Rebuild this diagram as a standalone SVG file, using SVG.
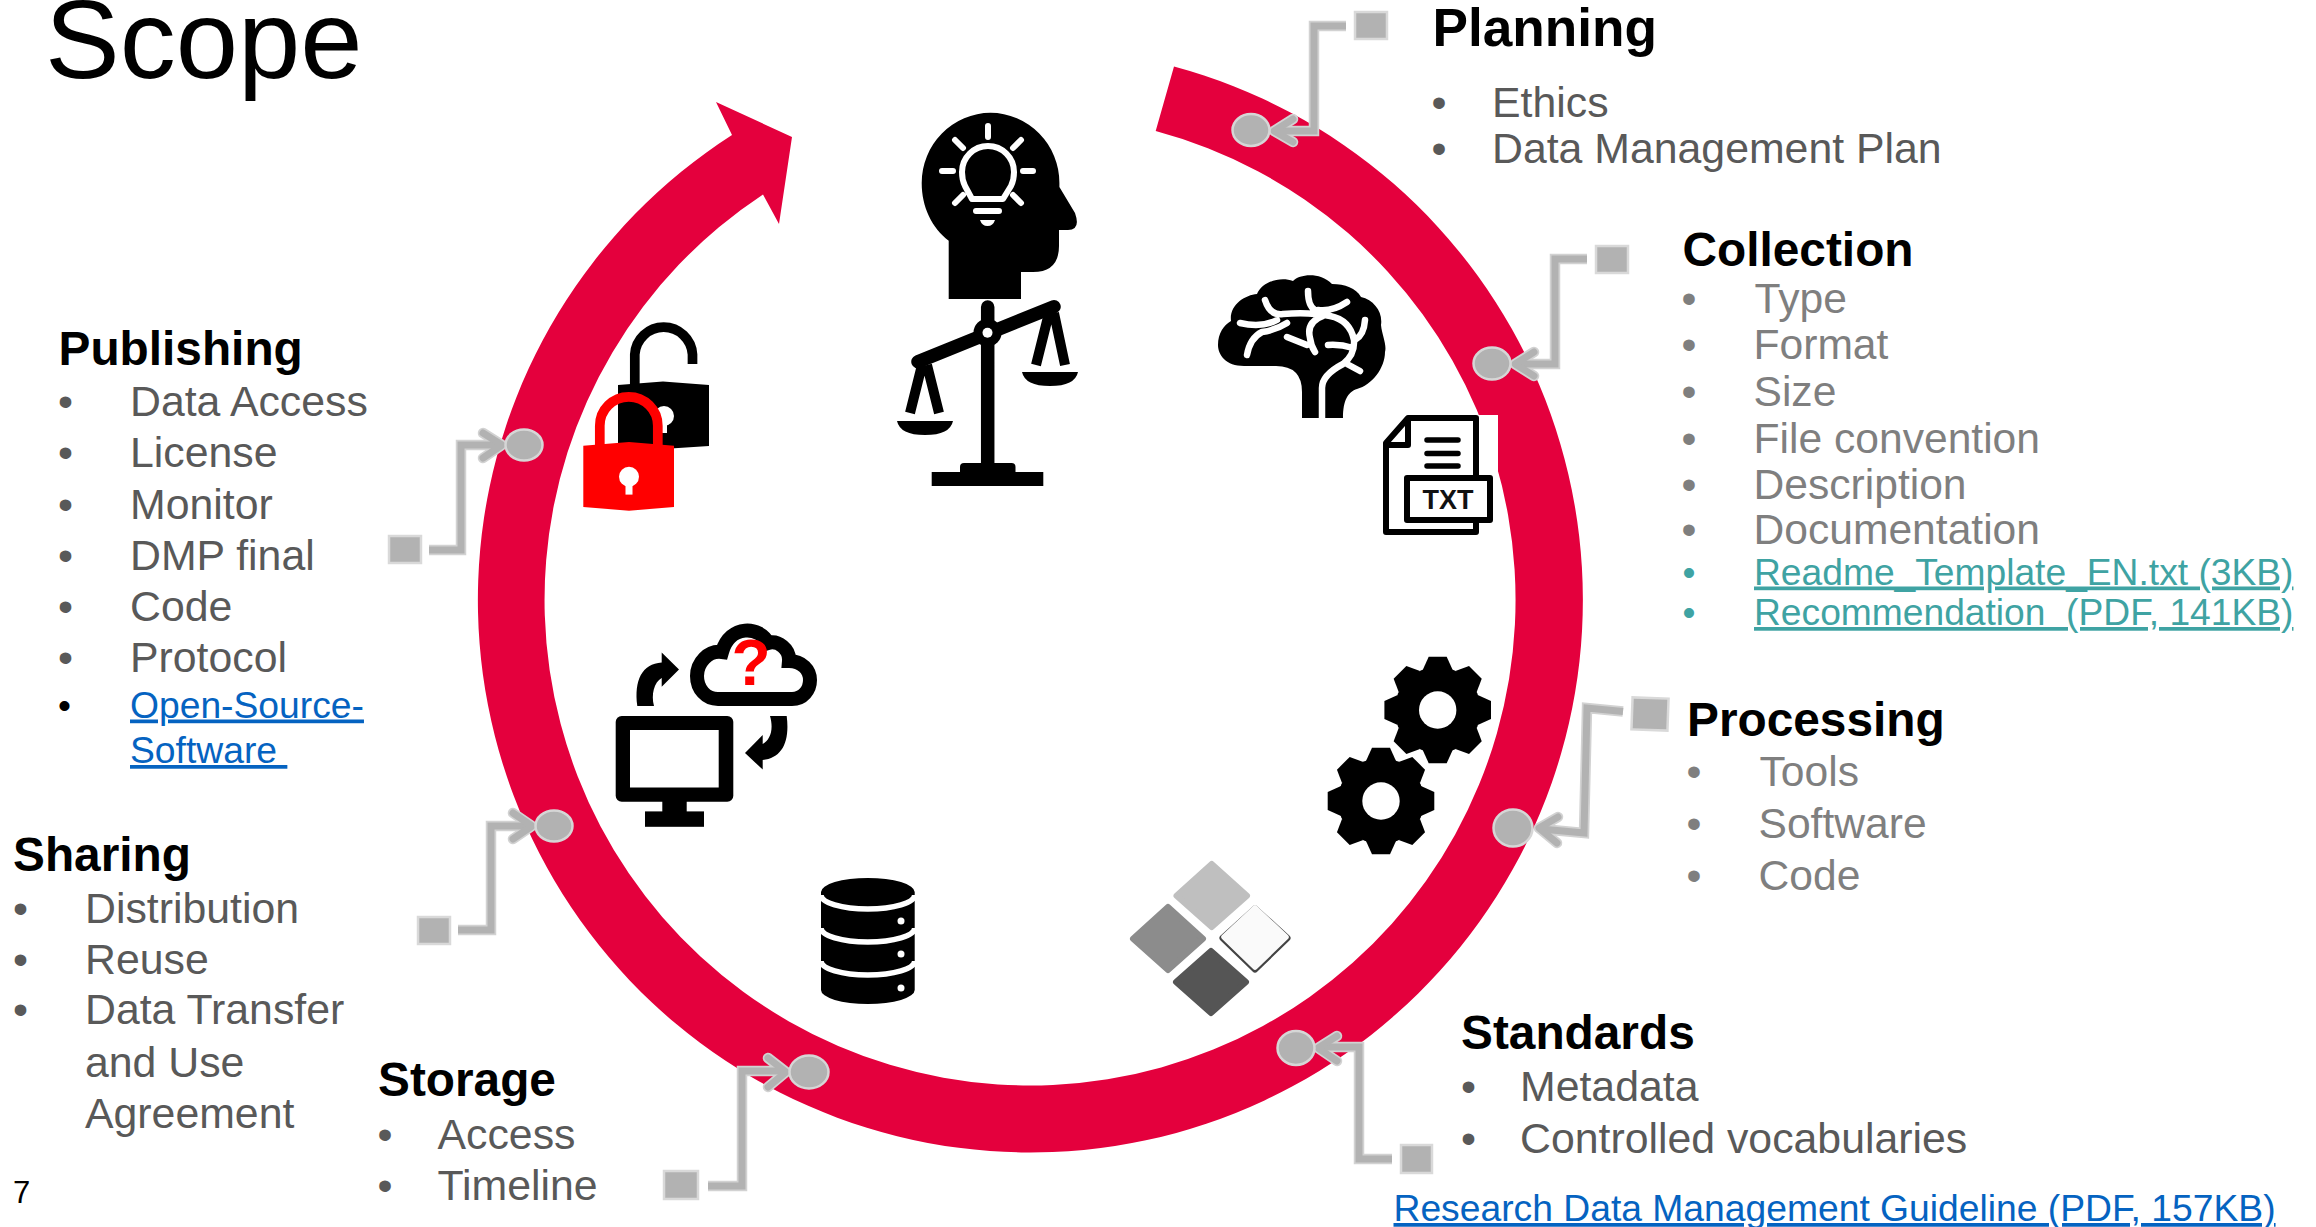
<svg xmlns="http://www.w3.org/2000/svg" xmlns:xlink="http://www.w3.org/1999/xlink" width="2316" height="1227" viewBox="0 0 2316 1227">
<style>
text{font-family:"Liberation Sans",Arial,sans-serif;white-space:pre}
.h{font-weight:700;font-size:47.8px;fill:#000}
.d{font-size:42.8px;fill:#595959}
.g{font-size:42.6px;fill:#7f7f7f}
.bl{text-anchor:middle}
.lk{font-size:37.25px;fill:#0563c1;text-decoration:underline}
.te{font-size:37.2px;fill:#3fa3a3;text-decoration:underline}
.sq{fill:#b2b2b2;stroke:#d9d9d9;stroke-width:2.5}
.dot{fill:#b2b2b2;stroke:#d6d6d6;stroke-width:2.5}
.halo{fill:none;stroke:#d2d2d2;stroke-width:10.5}
.core{fill:none;stroke:#b2b2b2;stroke-width:7}
.ch{stroke-linecap:round;stroke-linejoin:round}
.wl{fill:none;stroke:#fff;stroke-linecap:round;stroke-linejoin:round}
.k{fill:#000}
</style>
<defs>
<g id="gear" class="k">
<circle r="43"/>
<polygon id="tooth" points="-15,-40 -9,-53.3 9,-53.3 15,-40"/>
<use href="#tooth" transform="rotate(45)"/><use href="#tooth" transform="rotate(90)"/><use href="#tooth" transform="rotate(135)"/><use href="#tooth" transform="rotate(180)"/><use href="#tooth" transform="rotate(225)"/><use href="#tooth" transform="rotate(270)"/><use href="#tooth" transform="rotate(315)"/>
<circle r="18.7" fill="#fff"/>
</g>
<g id="c1"><path d="M1346,26 H1314 V131 H1276"/><path class="ch" d="M1293,119 L1274,131 L1293,142"/></g>
<g id="c2"><path d="M1587,259 H1555 V364 H1516"/><path class="ch" d="M1534,352 L1515,364 L1534,376"/></g>
<g id="c3"><path d="M1623,711.5 L1587,708 L1584,833 L1541,829"/><path class="ch" d="M1558,817 L1539,828 L1557,843"/></g>
<g id="c4"><path d="M1392,1159 H1359 V1047 H1320"/><path class="ch" d="M1337,1036 L1318,1048 L1337,1061"/></g>
<g id="c5"><path d="M708,1186 H742 V1071 H783"/><path class="ch" d="M768,1058 L786,1072 L768,1087"/></g>
<g id="c6"><path d="M458,930 H491 V826 H529"/><path class="ch" d="M513,813 L532,826 L513,839"/></g>
<g id="c7"><path d="M429,550 H461 V445 H499"/><path class="ch" d="M483,433 L502,445 L483,458"/></g>
</defs>

<g id="title"><text x="45" y="78" font-size="112" fill="#000">Scope</text></g>
<g id="page-number"><text x="13" y="1203" font-size="31" fill="#000">7</text></g>

<g id="cycle-ring">
<path fill="#e4003d" d="M1174,66.5 A552.5,552.5 0 1 1 732,135 L716,102 L792,137 L779,224 L763,194.5 A485.5,485.5 0 1 0 1155.7,131 Z"/>
</g>

<g id="icon-head-scales">
<path class="k" d="M948.7,299 V240.7 C932,228 921.7,207 921.7,183 A68.7,70 0 0 1 1059.4,183 V187 L1075,213 Q1081,230 1068,230 H1059 V246 Q1059,272 1033,272 H1021 V299 Z"/>
<path class="wl" stroke-width="6" d="M972,199 H1003 L1011,186 Q1014,180 1014,172 A26,26 0 1 0 962,172 Q962,180 965,186 Z M988,126 V137 M942,171 H953 M1023,171 H1033 M955,140 L963,148 M1021,140 L1013,148 M963,195 L955,203 M1013,195 L1021,203 M976,211 H999"/>
<path fill="#fff" d="M980,220 H995 Q993,226 987.5,226 Q982,226 980,220 Z"/>
<path fill="none" stroke="#000" stroke-width="13.5" stroke-linecap="round" d="M987.7,307 V470 M918,361.7 L1054,306.7"/>
<circle class="k" cx="987.5" cy="332.7" r="14"/><circle cx="987.5" cy="332.7" r="5" fill="#fff"/>
<path fill="none" stroke="#000" stroke-width="10" d="M922,365 L910,413 M927,365 L939,413 M1049,313 L1036,365 M1054,313 L1065,365"/>
<path class="k" d="M897,421 H953 Q950,435 925,435 Q900,435 897,421 Z M1022,372 H1078 Q1075,386 1050,386 Q1025,386 1022,372 Z"/>
<rect class="k" x="960" y="463" width="55.5" height="14" rx="4"/>
<rect class="k" x="931.7" y="472" width="111.6" height="14"/>
</g>

<g id="icon-brain">
<path class="k" d="M1302,418 V392 Q1302,366 1276,366 H1244 C1226,366 1218,355 1218,345 C1218,333 1224,325 1231,321 C1229,305 1245,295 1257,294 C1262,282 1280,276 1293,281 C1300,274 1320,272 1332,284 C1345,284 1356,288 1361,297 C1374,300 1383,312 1381,325 C1382,335 1387,345 1385,352 C1385,368 1372,385 1357,389 C1348,392 1343,400 1343,418 Z"/>
<path class="wl" stroke-width="6.5" d="M1322,421 V388 Q1322,375 1343,364 Q1355,355 1354,340 Q1350,320 1330,316 Q1310,312 1283,314 Q1270,316 1265,300 M1277,320 Q1262,328 1240,323 M1287,323 Q1276,330 1262,332 Q1250,338 1247,355 M1308,291 Q1308,306 1315,310 M1318,310 Q1332,312 1347,302 M1323,316 Q1306,322 1310,338 Q1311,346 1315,352 M1287,337 L1307,345 M1328,345 Q1340,344 1353,348 M1355,340 Q1364,335 1365,320 M1347,364 L1360,371"/>
</g>

<g id="icon-txt-file">
<rect x="1380" y="415" width="118" height="120" fill="#fff"/>
<path fill="#fff" stroke="#000" stroke-width="6" stroke-linejoin="round" d="M1408,418 H1476 V532 H1386 V443 Z"/>
<path fill="none" stroke="#000" stroke-width="6" stroke-linejoin="round" d="M1408,418 V445 H1386"/>
<path fill="none" stroke="#000" stroke-width="5.5" stroke-linecap="round" d="M1427,440 H1458 M1427,453.5 H1458 M1427,466 H1458"/>
<rect x="1407" y="478" width="83" height="42" fill="#fff" stroke="#000" stroke-width="6" stroke-linejoin="round"/>
<text x="1448" y="509" font-size="27" font-weight="700" fill="#111" text-anchor="middle">TXT</text>
</g>

<g id="icon-gears">
<use href="#gear" x="1437.7" y="710"/>
<use href="#gear" x="1381" y="801"/>
</g>

<g id="icon-tiles" stroke-linejoin="round">
<polygon points="1211.7,864 1247,895.7 1211.7,927 1176.5,895.7" fill="#bfbfbf" stroke="#bfbfbf" stroke-width="6"/>
<polygon points="1168,907 1203,938.7 1168,970 1133,938.7" fill="#8c8c8c" stroke="#8c8c8c" stroke-width="6"/>
<polygon points="1255,909 1287,938 1255,969 1223,938" fill="#444" stroke="#444" stroke-width="7"/>
<polygon points="1255,908 1286,937 1255,967 1224,937" fill="#fafafa" stroke="#fafafa" stroke-width="5.5"/>
<polygon points="1211,951 1246,982 1211,1013 1176,982" fill="#555" stroke="#555" stroke-width="6"/>
</g>

<g id="icon-database">
<path class="k" d="M821,892 A46.7,14 0 0 1 914.7,892 V990 A46.7,14 0 0 1 821,990 Z"/>
<path fill="none" stroke="#fff" stroke-width="5.5" d="M821,895 A46.7,14 0 0 0 914.7,895 M821,928 A46.7,14 0 0 0 914.7,928 M821,961 A46.7,14 0 0 0 914.7,961"/>
<circle cx="901" cy="921" r="3.5" fill="#fff"/><circle cx="901" cy="954" r="3.5" fill="#fff"/><circle cx="901" cy="988" r="3.5" fill="#fff"/>
</g>

<g id="icon-locks">
<path fill="none" stroke="#000" stroke-width="9.7" d="M634.8,386 V354.5 A28.9,29 0 0 1 692.5,354.5 V364"/>
<polygon class="k" points="618,385 663,381.5 709,385 709,446 663,449 618,446"/>
<circle cx="664" cy="416" r="10" fill="#fff"/><rect x="661" y="420" width="6" height="13" fill="#fff"/>
<path fill="none" stroke="#f00" stroke-width="9.7" d="M599.8,446 V425.8 A29,29 0 0 1 657.8,425.8 V446"/>
<polygon fill="#f00" points="583.3,445.7 629,442 674,445.7 674,507 629,510.7 583.3,507"/>
<circle cx="629" cy="476.8" r="10" fill="#fff"/><rect x="625.5" y="480" width="7" height="14.6" fill="#fff"/>
</g>

<g id="icon-cloud-computer">
<path fill="#fff" stroke="#000" stroke-width="14" d="M718,699 H792 C803,699 810,690 810,680 C810,670 802,661 789,661 C790,649 778,640 768,643 C760,626 730,624 722,652 C708,650 697,663 697,676 C697,689 706,699 718,699 Z"/>
<text x="751" y="685" font-size="64" font-weight="700" fill="#f00" text-anchor="middle">?</text>
<rect class="k" x="615.7" y="716" width="117.6" height="85.8" rx="6"/>
<rect x="630" y="730" width="88.7" height="57.5" fill="#fff"/>
<rect class="k" x="662.3" y="801" width="24.4" height="11"/>
<rect class="k" x="645" y="811.4" width="59" height="15.4"/>
<path class="k" d="M637.3,706 C634,680 642,664 661.7,662.5 V652.5 L679,669.6 L661.7,686.8 V678 C654,682 651,695 654,706 Z"/>
<path class="k" d="M786.7,716 C790,742 782,758 762.7,760 V769.6 L745,753 L762.7,735 V744 C770,740 774,730 770,716 Z"/>
</g>

<g id="connectors">
<use href="#c1" class="halo"/><use href="#c1" class="core"/>
<use href="#c2" class="halo"/><use href="#c2" class="core"/>
<use href="#c3" class="halo"/><use href="#c3" class="core"/>
<use href="#c4" class="halo"/><use href="#c4" class="core"/>
<use href="#c5" class="halo"/><use href="#c5" class="core"/>
<use href="#c6" class="halo"/><use href="#c6" class="core"/>
<use href="#c7" class="halo"/><use href="#c7" class="core"/>
</g>

<g id="node-planning">
<ellipse class="dot" cx="1251" cy="130" rx="18.5" ry="16"/>
<rect class="sq" x="1355" y="12" width="32" height="27"/>
<text x="1432.5" y="46" font-size="53.2" font-weight="700" fill="#000">Planning</text>
<text class="d bl" x="1439" y="117">•</text><text class="d" x="1492" y="117">Ethics</text>
<text class="d bl" x="1439" y="163">•</text><text class="d" x="1492" y="163">Data Management Plan</text>
</g>

<g id="node-collection">
<ellipse class="dot" cx="1492" cy="363.6" rx="18.5" ry="16"/>
<rect class="sq" x="1596" y="246" width="32" height="27"/>
<text class="h" x="1682.5" y="266">Collection</text>
<text class="g bl" x="1689" y="312.5">•</text><text class="g" x="1754.5" y="312.5">Type</text>
<text class="g bl" x="1689" y="358.5">•</text><text class="g" x="1753.5" y="358.5">Format</text>
<text class="g bl" x="1689" y="405.5">•</text><text class="g" x="1753.5" y="405.5">Size</text>
<text class="g bl" x="1689" y="452.5">•</text><text class="g" x="1753.5" y="452.5">File convention</text>
<text class="g bl" x="1689" y="498.5">•</text><text class="g" x="1753.5" y="498.5">Description</text>
<text class="g bl" x="1689" y="544">•</text><text class="g" x="1753.5" y="544">Documentation</text>
<text class="bl" x="1689" y="584.5" font-size="37" fill="#3fa3a3">•</text><text class="te" x="1754" y="584.5">Readme_Template_EN.txt (3KB)</text>
<text class="bl" x="1689" y="625" font-size="37" fill="#3fa3a3">•</text><text class="te" x="1754" y="625">Recommendation  (PDF, 141KB)</text>
</g>

<g id="node-processing">
<ellipse class="dot" cx="1513" cy="828" rx="19.5" ry="18.5"/>
<rect class="sq" x="1632" y="698" width="36" height="32" transform="rotate(2 1650 714)"/>
<text class="h" x="1687" y="736">Processing</text>
<text class="g bl" x="1694" y="786">•</text><text class="g" x="1759.5" y="786">Tools</text>
<text class="g bl" x="1694" y="838">•</text><text class="g" x="1758.5" y="838">Software</text>
<text class="g bl" x="1694" y="890">•</text><text class="g" x="1758.5" y="890">Code</text>
</g>

<g id="node-standards">
<ellipse class="dot" cx="1296" cy="1048" rx="18.5" ry="17"/>
<rect class="sq" x="1401" y="1145" width="31" height="28"/>
<text class="h" x="1461" y="1049">Standards</text>
<text class="d bl" x="1468.5" y="1101">•</text><text class="d" x="1520" y="1101">Metadata</text>
<text class="d bl" x="1468.5" y="1153">•</text><text class="d" x="1520" y="1153">Controlled vocabularies</text>
<text class="lk" x="1393.5" y="1221">Research Data Management Guideline (PDF, 157KB)</text>
</g>

<g id="node-storage">
<ellipse class="dot" cx="809" cy="1072" rx="19.5" ry="16.5"/>
<rect class="sq" x="664" y="1171" width="34" height="28"/>
<text class="h" x="378" y="1096">Storage</text>
<text class="d bl" x="385" y="1149">•</text><text class="d" x="437.5" y="1149">Access</text>
<text class="d bl" x="385" y="1199.5">•</text><text class="d" x="437.5" y="1199.5">Timeline</text>
</g>

<g id="node-sharing">
<ellipse class="dot" cx="554" cy="826" rx="18.5" ry="15.5"/>
<rect class="sq" x="418" y="917" width="32" height="27"/>
<text class="h" x="13" y="871">Sharing</text>
<text class="d bl" x="20.4" y="923">•</text><text class="d" x="85" y="923">Distribution</text>
<text class="d bl" x="20.4" y="974">•</text><text class="d" x="85" y="974">Reuse</text>
<text class="d bl" x="20.4" y="1024">•</text><text class="d" x="85" y="1024">Data Transfer</text>
<text class="d" x="85" y="1077">and Use</text>
<text class="d" x="85" y="1128">Agreement</text>
</g>

<g id="node-publishing">
<ellipse class="dot" cx="524" cy="445" rx="18.5" ry="15.5"/>
<rect class="sq" x="389" y="536" width="32" height="27"/>
<text class="h" x="58.5" y="364.5">Publishing</text>
<text class="d bl" x="65.6" y="416">•</text><text class="d" x="130" y="416">Data Access</text>
<text class="d bl" x="65.6" y="467">•</text><text class="d" x="130" y="467">License</text>
<text class="d bl" x="65.6" y="519">•</text><text class="d" x="130" y="519">Monitor</text>
<text class="d bl" x="65.6" y="570">•</text><text class="d" x="130" y="570">DMP final</text>
<text class="d bl" x="65.6" y="621">•</text><text class="d" x="130" y="621">Code</text>
<text class="d bl" x="65.6" y="672">•</text><text class="d" x="130" y="672">Protocol</text>
<text class="bl" x="64.5" y="717.5" font-size="37" fill="#000">•</text><text class="lk" x="130" y="717.5">Open-Source-</text>
<text class="lk" x="130" y="763">Software </text>
</g>
</svg>
